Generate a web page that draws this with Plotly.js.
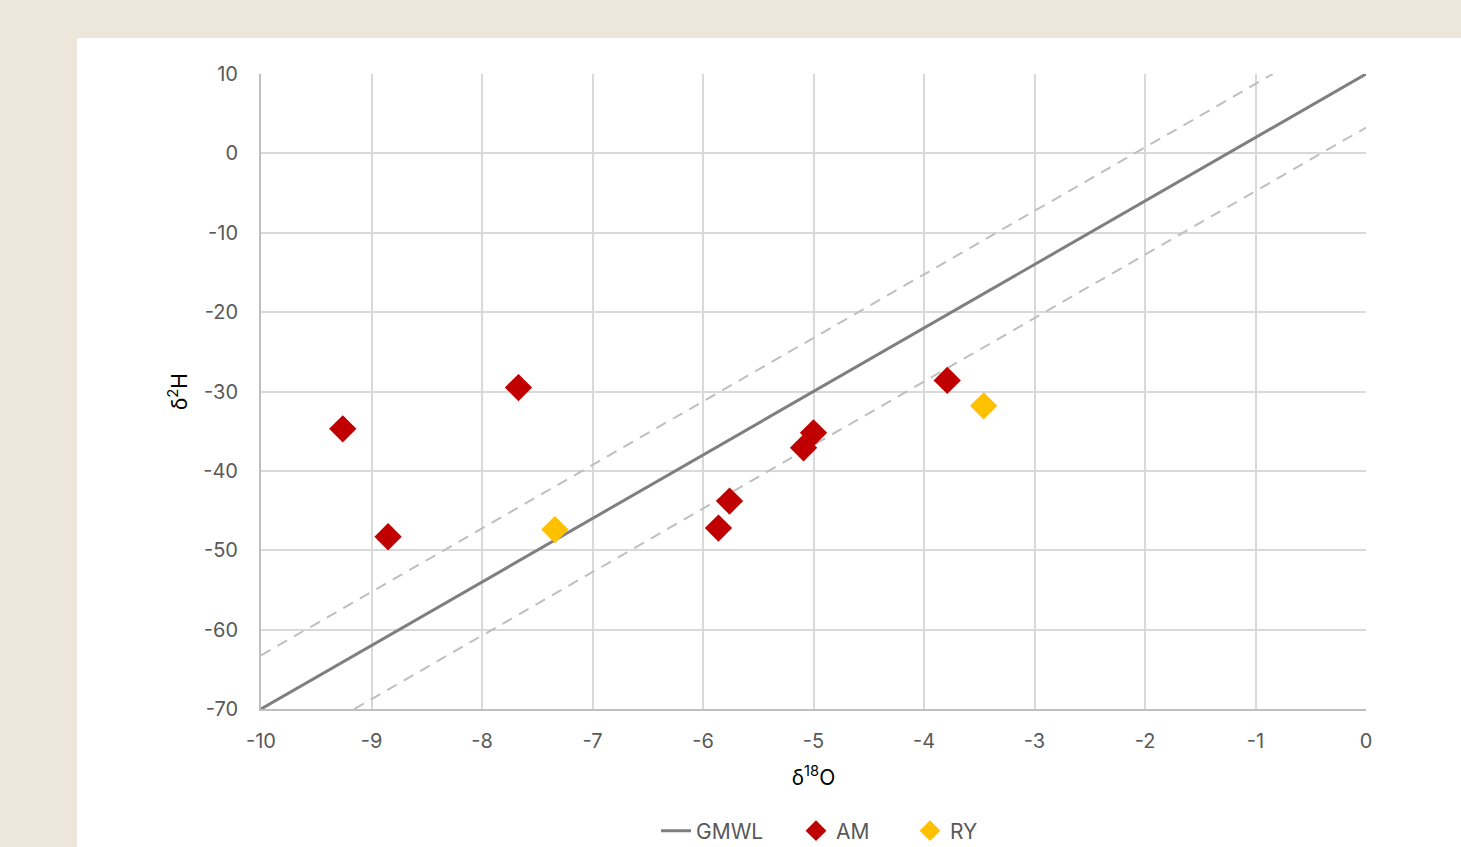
<!DOCTYPE html>
<html>
<head>
<meta charset="utf-8">
<script src="https://cdn.plot.ly/plotly-3.0.1.min.js"></script>
<style>
html,body{margin:0;padding:0;background:#EDE6DA;width:1461px;height:847px;overflow:hidden;}
#chart{position:absolute;left:77px;top:38px;width:1384px;height:809px;background:#fff;}
</style>
</head>
<body>
<div id="chart"></div>
<script>
// GMWL line endpoints (δ2H = 8·δ18O + 10)
const gmwlX = [-10, 0];
const gmwlY = [-70, 10];
// Dashed envelope lines
const upperX = [-10, -0.844];
const upperY = [-63.25, 10];
const lowerX = [-9.156, 0];
const lowerY = [-70, 3.25];
// Samples
const amX = [-9.26, -8.85, -7.67, -5.86, -5.76, -5.09, -5.00, -3.79];
const amY = [-34.7, -48.3, -29.5, -47.2, -43.8, -37.1, -35.2, -28.6];
const ryX = [-7.34, -3.46];
const ryY = [-47.4, -31.8];
const xTicks = [-10, -9, -8, -7, -6, -5, -4, -3, -2, -1, 0];
const yTicks = [10, 0, -10, -20, -30, -40, -50, -60, -70];

const FONT = 'Inter, "Open Sans", sans-serif';
const LEGFONT = {family: FONT, size: 21, color: '#595959'};

const traces = [
  {x: upperX, y: upperY, mode: 'lines', showlegend: false, hoverinfo: 'skip',
   line: {color: '#BFBFBF', width: 2, dash: '11px,8px'}},
  {x: lowerX, y: lowerY, mode: 'lines', showlegend: false, hoverinfo: 'skip',
   line: {color: '#BFBFBF', width: 2, dash: '11px,8px'}},
  {x: gmwlX, y: gmwlY, mode: 'lines', name: 'GMWL', legend: 'legend',
   line: {color: '#7F7F7F', width: 3}},
  {x: amX, y: amY, mode: 'markers', name: 'AM', legend: 'legend2',
   marker: {symbol: 'diamond', size: 21, color: '#C00000'}},
  {x: ryX, y: ryY, mode: 'markers', name: 'RY', legend: 'legend3',
   marker: {symbol: 'diamond', size: 21, color: '#FFC000'}}
];

function leg(xpx) {
  return {
    orientation: 'h', xref: 'container', yref: 'container',
    x: xpx / 1384, xanchor: 'left', y: (847 - 831) / 809, yanchor: 'middle',
    font: LEGFONT, bgcolor: 'rgba(0,0,0,0)'
  };
}

const layout = {
  width: 1384, height: 809,
  paper_bgcolor: '#FFFFFF', plot_bgcolor: '#FFFFFF',
  margin: {l: 184, r: 95, t: 36, b: 138},
  font: {family: FONT, size: 20, color: '#595959'},
  xaxis: {
    range: [-10, 0], tickvals: xTicks, ticktext: xTicks.map(String),
    showgrid: true, gridcolor: '#D9D9D9', gridwidth: 2,
    showline: true, linecolor: '#BFBFBF', linewidth: 2,
    zeroline: false, ticks: '', ticklabelstandoff: 13,
    tickfont: {family: FONT, size: 20, color: '#595959'},
    title: {text: 'δ<sup>18</sup>O', font: {family: FONT, size: 21, color: '#000000'}, standoff: 18}
  },
  yaxis: {
    range: [-70, 10], tickvals: yTicks, ticktext: yTicks.map(String),
    showgrid: true, gridcolor: '#D9D9D9', gridwidth: 2,
    showline: true, linecolor: '#BFBFBF', linewidth: 2,
    zeroline: false, ticks: '', ticklabelstandoff: 17,
    tickfont: {family: FONT, size: 20, color: '#595959'},
    title: {text: 'δ<sup>2</sup>H', font: {family: FONT, size: 21, color: '#000000'}, standoff: 10}
  },
  legend: leg(640 - 77 - 8 + 24),
  legend2: leg(816 - 77 - 26 + 6),
  legend3: leg(929 - 77 - 26 + 7),
  showlegend: true
};

Plotly.newPlot('chart', traces, layout, {displayModeBar: false, staticPlot: true});
</script>
</body>
</html>
